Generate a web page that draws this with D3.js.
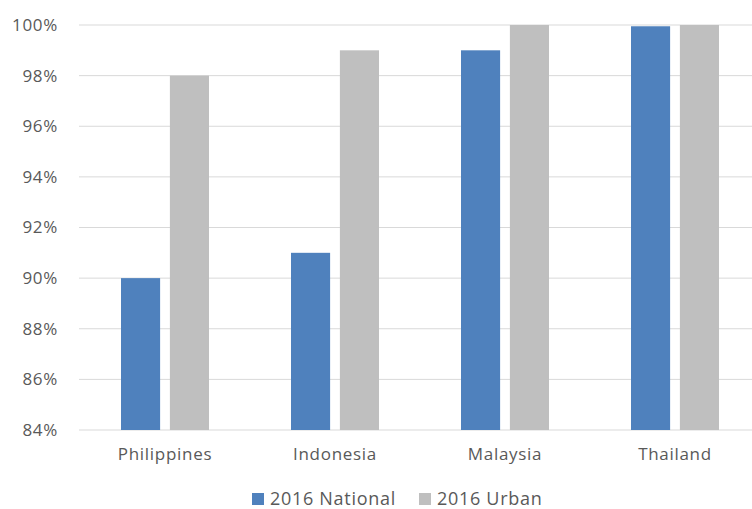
<!DOCTYPE html>
<html><head><meta charset="utf-8">
<script src="https://cdn.jsdelivr.net/npm/d3@7"></script>
<style>body{margin:0;background:#fff}text{font-family:"Open Sans",sans-serif;fill:#595959;letter-spacing:0.7px}</style>
</head><body><svg id="c" width="752" height="509"></svg>
<script>
const categories = ["Philippines","Indonesia","Malaysia","Thailand"];
const seriesNames = ["2016 National","2016 Urban"];
const national = [90, 91, 99, 99.95];
const urban = [98, 99, 100, 100];
const yTicks = [84,86,88,90,92,94,96,98,100];
const colors = ["#4F81BD","#BFBFBF"];

const svg = d3.select("#c");
const x0 = d3.scaleBand().domain(categories).range([80,760]);
const x1 = d3.scaleBand().domain(seriesNames).range([41,129]).paddingInner(0.2);
const y = d3.scaleLinear().domain([84,100]).range([430,25]);

svg.append("g").selectAll("line").data(yTicks).join("line")
  .attr("x1",79).attr("x2",752).attr("y1",d=>y(d)).attr("y2",d=>y(d))
  .attr("stroke","#D9D9D9").attr("stroke-width",1);

const yAxis = svg.append("g").attr("transform","translate(79,0)")
  .call(d3.axisLeft(y).tickValues(yTicks).tickFormat(d=>d+"%").tickSize(0).tickPadding(21));
yAxis.select(".domain").remove();
yAxis.selectAll("text").style("font-size","17px").attr("fill","#595959");

const data = [national, urban];
categories.forEach((c,i)=>{
  seriesNames.forEach((s,j)=>{
    svg.append("rect").attr("x",x0(c)+x1(s)).attr("width",x1.bandwidth())
      .attr("y",y(data[j][i])).attr("height",y(84)-y(data[j][i]))
      .attr("fill",colors[j]);
  });
});

const xAxis = svg.append("g").attr("transform","translate(0,430)")
  .call(d3.axisBottom(x0).tickSize(0).tickPadding(18));
xAxis.select(".domain").remove();
xAxis.selectAll("text").style("font-size","17px").attr("fill","#595959");

const leg = svg.append("g");
const legX = [252, 419];
seriesNames.forEach((s,j)=>{
  leg.append("rect").attr("x",legX[j]).attr("y",493).attr("width",12).attr("height",12).attr("fill",colors[j]);
  leg.append("text").attr("x",legX[j]+18).attr("y",505).style("font-size","18px").text(s);
});
</script></body></html>
